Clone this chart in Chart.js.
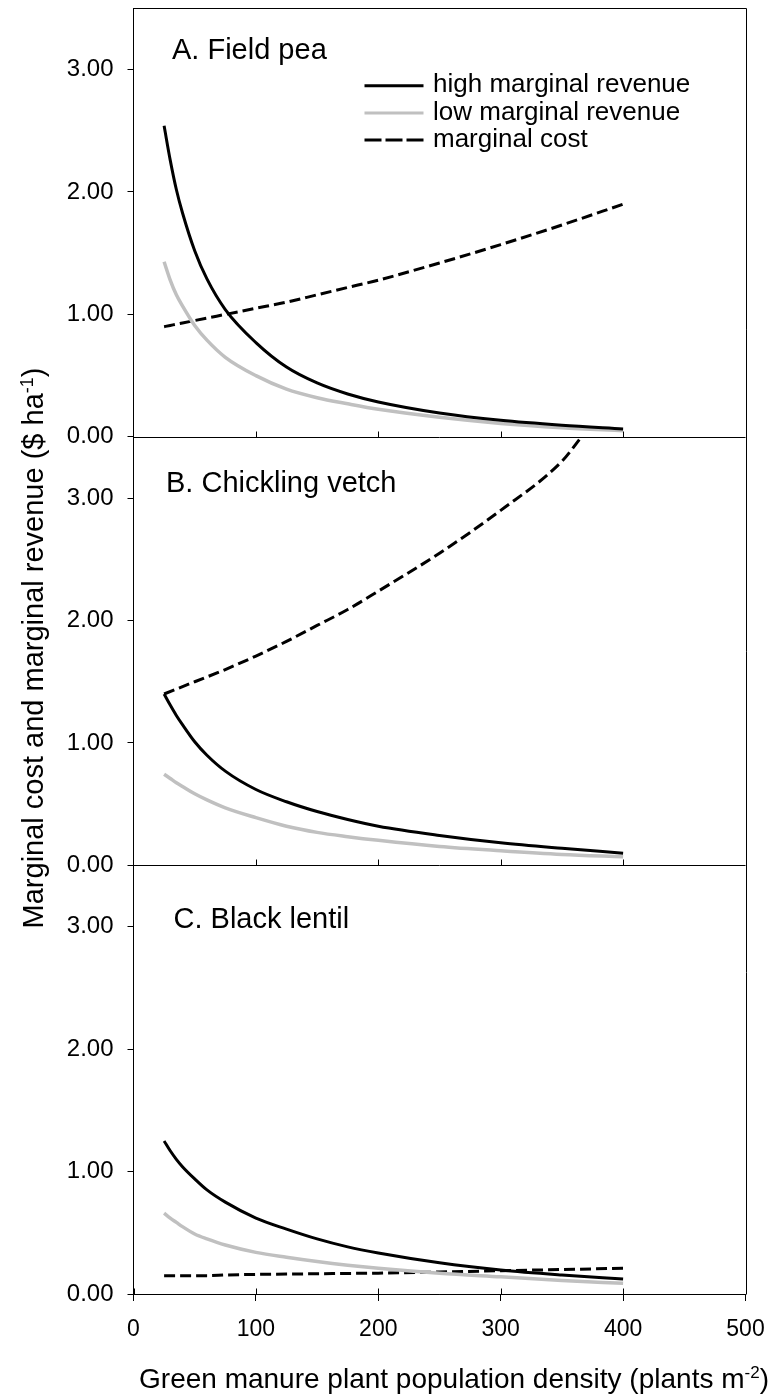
<!DOCTYPE html>
<html><head><meta charset="utf-8">
<script src="https://cdn.jsdelivr.net/npm/chart.js@4.4.1/dist/chart.umd.min.js"></script>
<style>html,body{margin:0;padding:0;background:#fff;}#wrap{position:relative;width:774px;height:1397px;}</style>
</head><body><div id="wrap"><canvas id="c" width="774" height="1397"></canvas></div>
<script>
// ---- data ----
const density      = [25, 30, 35, 40, 50, 60, 75, 100, 125, 150, 175, 200, 250, 300, 350, 400];
const peaHighMR    = [2.54, 2.26, 2.02, 1.83, 1.52, 1.29, 1.04, 0.77, 0.57, 0.44, 0.35, 0.285, 0.195, 0.135, 0.095, 0.065];
const peaLowMR     = [1.43, 1.28, 1.16, 1.07, 0.91, 0.79, 0.65, 0.50, 0.39, 0.32, 0.27, 0.225, 0.16, 0.11, 0.075, 0.05];
const peaMC        = [0.90, 0.91, 0.92, 0.93, 0.95, 0.97, 1.00, 1.05, 1.10, 1.16, 1.22, 1.28, 1.42, 1.57, 1.73, 1.90];
const vetchHighMR  = [1.40, 1.31, 1.225, 1.15, 1.01, 0.90, 0.77, 0.62, 0.52, 0.44, 0.375, 0.32, 0.245, 0.185, 0.14, 0.10];
const vetchLowMR   = [0.745, 0.71, 0.675, 0.645, 0.585, 0.535, 0.47, 0.39, 0.32, 0.27, 0.235, 0.205, 0.155, 0.12, 0.09, 0.07];
const vetchMCDensity = [25, 50, 75, 100, 125, 150, 175, 200, 250, 300, 350, 366];
const vetchMC      = [1.40, 1.50, 1.60, 1.71, 1.83, 1.96, 2.09, 2.24, 2.55, 2.90, 3.30, 3.50];
const lentilHighMR = [1.25, 1.17, 1.10, 1.04, 0.94, 0.85, 0.75, 0.62, 0.53, 0.45, 0.385, 0.335, 0.255, 0.196, 0.155, 0.122];
const lentilLowMR  = [0.66, 0.62, 0.585, 0.55, 0.49, 0.45, 0.40, 0.34, 0.30, 0.265, 0.235, 0.21, 0.17, 0.14, 0.11, 0.087];
const lentilMC     = [0.15, 0.15, 0.15, 0.15, 0.15, 0.15, 0.155, 0.16, 0.163, 0.165, 0.168, 0.17, 0.18, 0.19, 0.20, 0.21];

const xTickValues  = [0, 100, 200, 300, 400, 500];
const yTickValues  = [0, 1, 2, 3];
const yTickLabels  = ['0.00', '1.00', '2.00', '3.00'];
const panelLabels  = ['A. Field pea', 'B. Chickling vetch', 'C. Black lentil'];
const seriesLabels = ['high marginal revenue', 'low marginal revenue', 'marginal cost'];
const xTitleParts  = [['Green manure plant population density (plants m', false], ['-2', true], [')', false]];
const yTitleParts  = [['Marginal cost and marginal revenue ($ ha', false], ['-1', true], [')', false]];

// ---- helpers ----
const FONT = '"Liberation Sans", Arial, Helvetica, sans-serif';
const pts = (xs, ys) => xs.map((x, i) => ({x: x, y: ys[i]}));
function ds(label, xs, ys, axis, kind) {
  const d = {label: label, data: pts(xs, ys), yAxisID: axis, pointRadius: 0, fill: false,
    cubicInterpolationMode: 'monotone', borderCapStyle: 'butt'};
  if (kind === 'high') { d.borderColor = '#000'; d.borderWidth = 3; }
  if (kind === 'low')  { d.borderColor = '#c0c0c0'; d.borderWidth = 3.5; }
  if (kind === 'cost') { d.borderColor = '#000'; d.borderWidth = 3; d.borderDash = [11, 5]; }
  return d;
}

function yAxis(weight) {
  return {
    type: 'linear', position: 'left', stack: 'panels', stackWeight: 1, weight: weight,
    min: 0, max: 3.5,
    afterBuildTicks: s => { s.ticks = yTickValues.map(v => ({value: v})); },
    afterFit: s => { s.width = 133.5; s.paddingTop = 0; s.paddingBottom = 0; },
    ticks: {color: '#000', font: {family: FONT, size: 24}, padding: 14,
      callback: v => yTickLabels[yTickValues.indexOf(v)]},
    grid: {display: true, drawOnChartArea: false, drawTicks: true, tickLength: 6, color: '#000', lineWidth: 1},
    border: {display: true, color: '#000', width: 1}
  };
}

function drawRich(ctx, parts, size) {
  const supSize = Math.round(size * 0.62);
  let total = 0;
  const widths = parts.map(p => {
    ctx.font = (p[1] ? supSize : size) + 'px ' + FONT;
    const w = ctx.measureText(p[0]).width; total += w; return w;
  });
  let x = -total / 2;
  parts.forEach((p, i) => {
    ctx.font = (p[1] ? supSize : size) + 'px ' + FONT;
    ctx.fillText(p[0], x, p[1] ? -size * 0.36 : 0);
    x += widths[i];
  });
}

const decor = {
  id: 'decor',
  afterDraw(chart) {
    const ctx = chart.ctx;
    const a = chart.chartArea;
    const xs = chart.scales.x;
    const panels = [chart.scales.yA, chart.scales.yB, chart.scales.yC];
    ctx.save();
    ctx.strokeStyle = '#000'; ctx.lineWidth = 1;
    // frame
    ctx.beginPath();
    ctx.moveTo(a.left, Math.round(a.top) + 0.5); ctx.lineTo(Math.round(a.right) + 0.5, Math.round(a.top) + 0.5);
    ctx.lineTo(Math.round(a.right) + 0.5, a.bottom);
    ctx.stroke();
    // panel separators + inward x ticks
    panels.forEach((p, idx) => {
      const yb = Math.round(p.bottom) + 0.5;
      ctx.beginPath();
      ctx.moveTo(a.left, yb); ctx.lineTo(a.right, yb); ctx.stroke();
      xTickValues.forEach(v => {
        const px = Math.round(xs.getPixelForValue(v)) + 0.5;
        if (idx < 2 && (v === 0 || v === 500)) return;
        ctx.beginPath(); ctx.moveTo(px, yb); ctx.lineTo(px, yb - 6); ctx.stroke();
      });
    });
    // panel labels
    ctx.fillStyle = '#000';
    ctx.textAlign = 'left'; ctx.textBaseline = 'alphabetic';
    ctx.font = '29px ' + FONT;
    const lblPos = [[172, 51], [166, 55], [173.5, 63]];
    panels.forEach((p, i) => ctx.fillText(panelLabels[i], lblPos[i][0], p.top + lblPos[i][1]));
    // legend (panel A)
    const rows = [85.7, 113, 140];
    ctx.font = '26px ' + FONT;
    chart.data.datasets.slice(0, 3).forEach((d, i) => {
      ctx.beginPath();
      ctx.strokeStyle = d.borderColor; ctx.lineWidth = 3;
      ctx.setLineDash(d.borderDash ? [17, 4] : []);
      ctx.moveTo(364.5, rows[i]); ctx.lineTo(423.5, rows[i]); ctx.stroke();
      ctx.setLineDash([]);
      ctx.fillText(seriesLabels[i], 433, rows[i] + 6.5);
    });
    // axis titles
    ctx.textAlign = 'left';
    ctx.save(); ctx.translate(454, 1388); drawRich(ctx, xTitleParts, 28); ctx.restore();
    ctx.save(); ctx.translate(43, 648); ctx.rotate(-Math.PI / 2); drawRich(ctx, yTitleParts, 29); ctx.restore();
    ctx.restore();
  }
};

new Chart(document.getElementById('c'), {
  type: 'line',
  data: {
    datasets: [
      ds(seriesLabels[0], density, peaHighMR, 'yA', 'high'),
      ds(seriesLabels[1], density, peaLowMR, 'yA', 'low'),
      ds(seriesLabels[2], density, peaMC, 'yA', 'cost'),
      ds(seriesLabels[0], density, vetchHighMR, 'yB', 'high'),
      ds(seriesLabels[1], density, vetchLowMR, 'yB', 'low'),
      ds(seriesLabels[2], vetchMCDensity, vetchMC, 'yB', 'cost'),
      ds(seriesLabels[0], density, lentilHighMR, 'yC', 'high'),
      ds(seriesLabels[1], density, lentilLowMR, 'yC', 'low'),
      ds(seriesLabels[2], density, lentilMC, 'yC', 'cost')
    ]
  },
  options: {
    responsive: false, animation: false, devicePixelRatio: 1,
    layout: {padding: {top: 8.3, right: 28.5, left: 0, bottom: 0}},
    plugins: {legend: {display: false}, tooltip: {enabled: false}},
    scales: {
      x: {
        type: 'linear', position: 'bottom', min: 0, max: 500,
        afterBuildTicks: s => { s.ticks = xTickValues.map(v => ({value: v})); },
        afterFit: s => { s.height = 103; s.paddingLeft = 0; s.paddingRight = 0; },
        ticks: {color: '#000', font: {family: FONT, size: 23}, padding: 15, maxRotation: 0, autoSkip: false,
          callback: v => String(v)},
        grid: {display: true, drawOnChartArea: false, drawTicks: true, tickLength: 7, color: '#000', lineWidth: 1},
        border: {display: true, color: '#000', width: 1}
      },
      yA: yAxis(3),
      yB: yAxis(2),
      yC: yAxis(1)
    }
  },
  plugins: [decor]
});
</script></body></html>
